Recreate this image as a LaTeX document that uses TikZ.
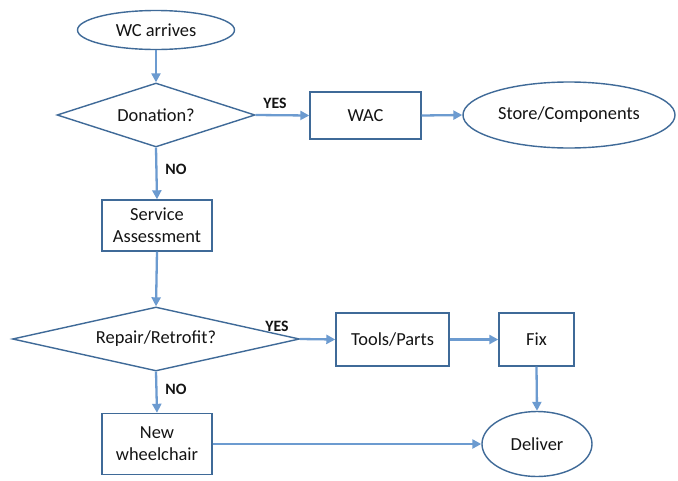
\documentclass[tikz,border=0pt]{standalone}
\usepackage{fontspec}
\setmainfont{Carlito}
\usetikzlibrary{shapes.geometric,arrows.meta}
\definecolor{edgeblue}{HTML}{3F6A98}
\definecolor{arrblue}{HTML}{6C9BD0}
\definecolor{txt}{HTML}{141414}
\tikzset{
  shp/.style={draw=edgeblue, line width=1.4pt, fill=white, inner sep=0pt, text=txt,
    font=\fontsize{18.4}{22}\selectfont, align=center},
  boxnode/.style={shp, rectangle},
  ellnode/.style={shp, ellipse},
  dianode/.style={shp, diamond},
  arr/.style={draw=arrblue, line width=2.3pt, -{Triangle[length=9pt,width=9pt]}},
  lbl/.style={text=txt, inner sep=0pt, font=\fontsize{15.8}{18}\selectfont\bfseries}
}
\begin{document}
\begin{tikzpicture}[x=1pt,y=-1pt]
\fill[white] (0,0) rectangle (678,480);
\useasboundingbox (0,0) rectangle (678,480);
\node[ellnode, minimum width=157pt, minimum height=39pt] (wc) at (156,30) {WC arrives};
\node[dianode, aspect=3.1, minimum width=198pt, minimum height=64pt] (don) at (156,115) {Donation?};
\node[boxnode, minimum width=111pt, minimum height=47pt] (wac) at (365.5,115.5) {WAC};
\node[ellnode, minimum width=212pt, minimum height=66pt] (store) at (569,115) {Store/Components};
\node[boxnode, minimum width=110pt, minimum height=51pt] (svc) at (157,225.5) {Service\\Assessment};
\node[dianode, aspect=4.5, minimum width=287pt, minimum height=64pt] (rep) at (156,339) {Repair/Retrofit?};
\node[boxnode, minimum width=113pt, minimum height=53pt] (tools) at (392.5,339.5) {Tools/Parts};
\node[boxnode, minimum width=75pt, minimum height=53pt] (fix) at (536.5,339.5) {Fix};
\node[boxnode, minimum width=110pt, minimum height=61pt] (nw) at (157,444) {New\\wheelchair};
\node[ellnode, minimum width=110pt, minimum height=65pt] (del) at (537,444) {Deliver};

\node[lbl] (yes1) at (275,103) {YES};
\node[lbl] (no1) at (176,169) {NO};
\node[lbl] (yes2) at (277,326) {YES};
\node[lbl] (no2) at (176,389) {NO};

\draw[arr] (wc.south) -- (don.north);
\draw[arr] (don.east) -- (wac.west);
\draw[arr] (wac.east) -- (store.west);
\draw[arr] (don.south) -- (svc.north);
\draw[arr] (svc.south) -- (rep.north);
\draw[arr] (rep.east) -- (tools.west);
\draw[arr] (rep.south) -- (nw.north);
\draw[arr] (tools.east) -- (fix.west);
\draw[arr] (fix.south) -- (del.north);
\draw[arr] (nw.east) -- (del.west);
\end{tikzpicture}
\end{document}
